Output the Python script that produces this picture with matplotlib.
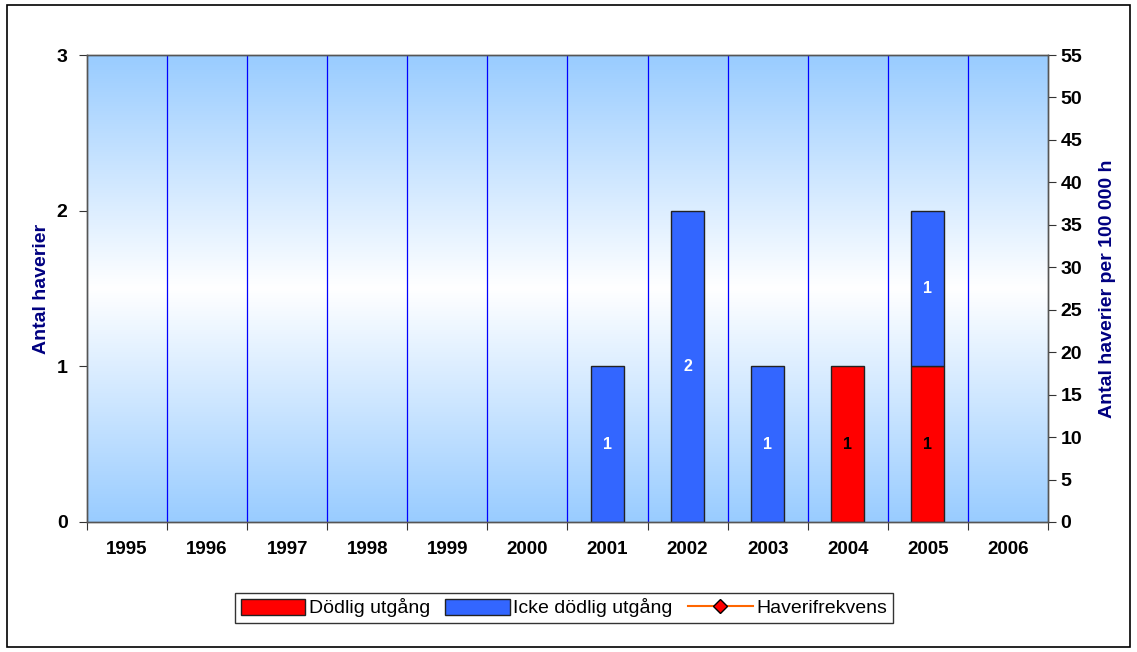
import numpy as np
import matplotlib.pyplot as plt
from matplotlib.patches import Patch, Rectangle
from matplotlib.lines import Line2D
from matplotlib.colors import LinearSegmentedColormap

plt.rcParams['font.family'] = ['Liberation Sans', 'DejaVu Sans']

years = ['1995','1996','1997','1998','1999','2000','2001','2002','2003','2004','2005','2006']
dodlig = [0,0,0,0,0,0,0,0,0,1,1,0]
icke_dodlig = [0,0,0,0,0,0,1,2,1,0,1,0]
frekvens = [np.nan]*12

red = '#FF0000'
blue = '#3366FF'
navy = '#000080'

fig = plt.figure(figsize=(11.37,6.52), dpi=100)
ax = fig.add_axes([0.0765, 0.1994, 0.8452, 0.7162])
ax2 = ax.twinx()

x = np.arange(len(years))
n = len(years)
d = np.array(dodlig, dtype=float)
ic = np.array(icke_dodlig, dtype=float)

# background gradient
cmap = LinearSegmentedColormap.from_list('bg', ['#99CCFF', '#FFFFFF', '#99CCFF'])
grad = np.linspace(0, 1, 256).reshape(-1, 1)
ax.imshow(grad, cmap=cmap, aspect='auto', extent=[-0.5, n-0.5, 0, 3], zorder=0)

for b in np.arange(0.5, n-0.5, 1):
    ax.axvline(b, color='#0000FF', lw=0.9, zorder=1)

w = 0.41
m1 = d > 0
m2 = ic > 0
ax.bar(x[m1], d[m1], w, color=red, edgecolor='#222222', lw=1, zorder=3)
ax.bar(x[m2], ic[m2], w, bottom=d[m2], color=blue, edgecolor='#222222', lw=1, zorder=3)

for i in range(n):
    if dodlig[i] > 0:
        ax.text(x[i], dodlig[i]/2, str(dodlig[i]), ha='center', va='center',
                fontsize=11.5, fontweight='bold', color='black', zorder=4)
    if icke_dodlig[i] > 0:
        ax.text(x[i], dodlig[i] + icke_dodlig[i]/2, str(icke_dodlig[i]), ha='center', va='center',
                fontsize=11.5, fontweight='bold', color='white', zorder=4)

ax2.plot(x, frekvens, color='#FF6600', marker='D', mfc='red', mec='black')

ax.set_xlim(-0.5, n-0.5)
ax.set_ylim(0, 3)
ax.set_yticks([0,1,2,3])
ax2.set_ylim(0, 55)
ax2.set_yticks(range(0, 56, 5))

ax.set_xticks(np.arange(-0.5, n, 1))
ax.set_xticklabels([])
ax.set_xticks(x, minor=True)
ax.set_xticklabels(years, minor=True)
ax.tick_params(axis='x', which='major', length=6, direction='out', color='#333333')
ax.tick_params(axis='x', which='minor', length=0, pad=14, labelsize=13.5)
for lab in ax.get_xticklabels(minor=True):
    lab.set_fontweight('bold')

ax.tick_params(axis='y', length=6, labelsize=14, color='#333333', pad=8)
ax2.tick_params(axis='y', length=6, labelsize=14, color='#333333', pad=3)
for lab in ax.get_yticklabels() + ax2.get_yticklabels():
    lab.set_fontweight('bold')

for a in (ax, ax2):
    for s in a.spines.values():
        s.set_color('#555555')
        s.set_linewidth(1)

ax.set_ylabel('Antal haverier', color=navy, fontsize=14, fontweight='bold', labelpad=5)
ax2.set_ylabel('Antal haverier per 100 000 h', color=navy, fontsize=14, fontweight='bold', labelpad=12)

handles = [Patch(facecolor=red, edgecolor='#222222', label='Dödlig utgång'),
           Patch(facecolor=blue, edgecolor='#222222', label='Icke dödlig utgång'),
           Line2D([0], [0], color='#FF6600', marker='D', mfc='red', mec='black', ms=7, label='Haverifrekvens')]
leg = fig.legend(handles=handles, loc='center', bbox_to_anchor=(0.496, 0.0675), ncol=3,
                 fontsize=14, frameon=True, fancybox=False, edgecolor='black',
                 handlelength=3.3, handleheight=0.9, handletextpad=0.2, columnspacing=0.8, borderpad=0.3)
leg.get_frame().set_linewidth(1)

fig.patches.append(Rectangle((0.006, 0.008), 0.988, 0.985, transform=fig.transFigure,
                             fill=False, edgecolor='black', lw=1.2))

fig.savefig('out.png', dpi=100)
